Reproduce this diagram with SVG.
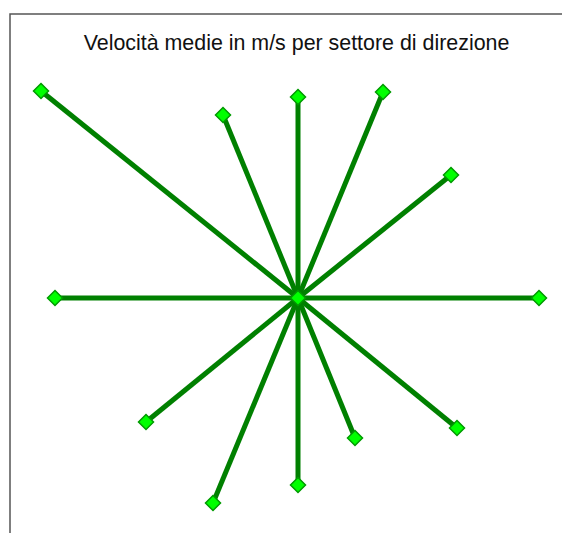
<svg xmlns="http://www.w3.org/2000/svg" width="562" height="534" viewBox="0 0 562 534">
<defs>
<style>
.frame{stroke:#555555;stroke-width:1.5;fill:none}
.ray{stroke:#008000;stroke-width:5;stroke-linecap:butt}
.dm{fill:#00ff00;stroke:#009a00;stroke-width:1.5}
.title{font-family:"Liberation Sans",Arial,sans-serif;font-size:21.4px;fill:#111111}
</style>
<path id="d" d="M0,-7.5 L7.5,0 L0,7.5 L-7.5,0 Z"/>
</defs>
<rect width="562" height="534" fill="#ffffff"/>
<path class="frame" d="M10,533 L10,14 L562,14"/>
<text class="title" x="296.5" y="50" text-anchor="middle">Velocità medie in m/s per settore di direzione</text>
<g id="connectors">
<line class="ray" x1="298" y1="298" x2="41" y2="91"/>
<line class="ray" x1="298" y1="298" x2="223" y2="115"/>
<line class="ray" x1="298" y1="298" x2="298" y2="97"/>
<line class="ray" x1="298" y1="298" x2="383" y2="92"/>
<line class="ray" x1="298" y1="298" x2="451" y2="175"/>
<line class="ray" x1="298" y1="298" x2="539" y2="298"/>
<line class="ray" x1="298" y1="298" x2="457" y2="428"/>
<line class="ray" x1="298" y1="298" x2="355" y2="438"/>
<line class="ray" x1="298" y1="298" x2="298" y2="485"/>
<line class="ray" x1="298" y1="298" x2="213" y2="503"/>
<line class="ray" x1="298" y1="298" x2="146" y2="422"/>
<line class="ray" x1="298" y1="298" x2="55" y2="298"/>
</g>
<g id="n-center"><use href="#d" class="dm" x="298" y="298"/></g>
<g id="n1"><use href="#d" class="dm" x="41" y="91"/></g>
<g id="n2"><use href="#d" class="dm" x="223" y="115"/></g>
<g id="n3"><use href="#d" class="dm" x="298" y="97"/></g>
<g id="n4"><use href="#d" class="dm" x="383" y="92"/></g>
<g id="n5"><use href="#d" class="dm" x="451" y="175"/></g>
<g id="n6"><use href="#d" class="dm" x="539" y="298"/></g>
<g id="n7"><use href="#d" class="dm" x="457" y="428"/></g>
<g id="n8"><use href="#d" class="dm" x="355" y="438"/></g>
<g id="n9"><use href="#d" class="dm" x="298" y="485"/></g>
<g id="n10"><use href="#d" class="dm" x="213" y="503"/></g>
<g id="n11"><use href="#d" class="dm" x="146" y="422"/></g>
<g id="n12"><use href="#d" class="dm" x="55" y="298"/></g>
</svg>
